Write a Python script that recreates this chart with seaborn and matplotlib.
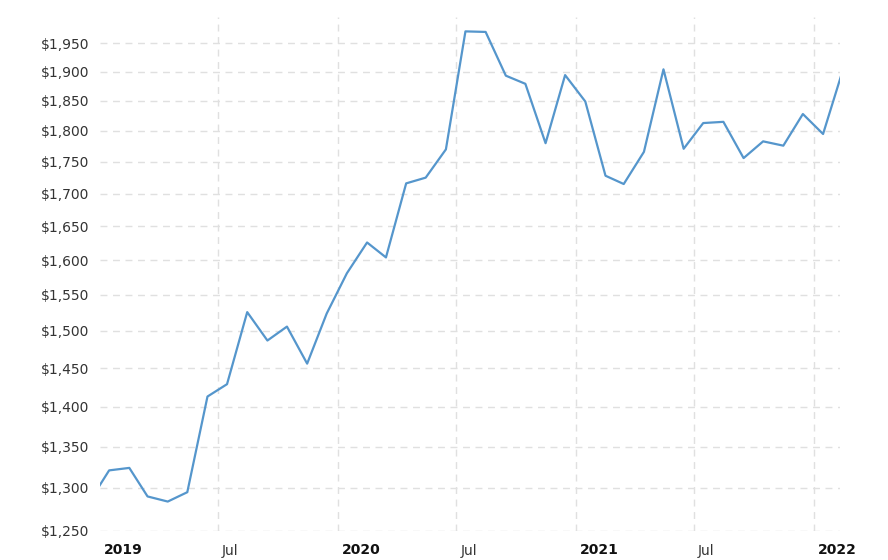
import pandas as pd
import matplotlib
matplotlib.use("Agg")
from matplotlib import pyplot as plt
import matplotlib.ticker as mticker
import matplotlib.transforms as mtrans
import seaborn as sns

# monthly average gold price, points placed at mid-month (Dec 2018 - Feb 2022)
months = pd.to_datetime([f"{d.year}-{d.month:02d}-15"
                         for d in pd.date_range("2018-12-01", periods=39, freq="MS")])
prices = [1283,
          1321, 1324, 1290, 1284, 1295, 1413, 1429, 1526, 1487, 1506, 1456, 1524,
          1581, 1626, 1604, 1716, 1725, 1770, 1971, 1970, 1893, 1879, 1780, 1894,
          1849, 1728, 1715, 1766, 1904, 1771, 1813, 1815, 1756, 1783, 1776, 1828,
          1795, 1905]

ytick_vals = list(range(1250, 1951, 50))
xtick_dates = pd.to_datetime(["2019-01-01", "2019-07-01", "2020-01-01", "2020-07-01",
                              "2021-01-01", "2021-07-01", "2022-01-01"])
xtick_labels = ["2019", "Jul", "2020", "Jul", "2021", "Jul", "2022"]

df = pd.DataFrame({"date": months, "price": prices})

sns.set_style("white")
plt.rcParams["font.family"] = ["DejaVu Sans"]

fig = plt.figure(figsize=(8.88, 5.6), dpi=100)
ax = fig.add_axes([100 / 888, 1 - 531 / 560, 740 / 888, 514 / 560])

sns.lineplot(data=df, x="date", y="price", ax=ax, color="#5596cc", linewidth=1.6)

ax.set_yscale("log")
ax.set_ylim(1250, 1997)
ax.set_xlim(pd.Timestamp("2019-01-01"), pd.Timestamp("2022-02-10"))

ax.yaxis.set_major_locator(mticker.FixedLocator(ytick_vals))
ax.yaxis.set_minor_locator(mticker.NullLocator())
ax.yaxis.set_major_formatter(mticker.FuncFormatter(lambda v, p: f"${v:,.0f}"))

ax.set_xticks(xtick_dates)
ax.set_xticklabels(xtick_labels)
ax.xaxis.set_minor_locator(mticker.NullLocator())

ax.tick_params(axis="both", length=0, labelsize=10, labelcolor="#333333")
ax.tick_params(axis="y", pad=8)
ax.tick_params(axis="x", pad=9)

offset = mtrans.ScaledTranslation(4 / 100, 0, fig.dpi_scale_trans)
for lab in ax.get_xticklabels():
    lab.set_horizontalalignment("left")
    lab.set_transform(lab.get_transform() + offset)
    if lab.get_text() != "Jul":
        lab.set_fontweight("bold")
        lab.set_color("#111111")

ax.grid(True, which="major", color="#e0e0e0", linestyle=(0, (5, 4)), linewidth=1)
ax.xaxis.get_major_ticks()[0].gridline.set_visible(False)
for s in ax.spines.values():
    s.set_visible(False)

ax.set_xlabel("")
ax.set_ylabel("")

fig.savefig("out.png", dpi=100)
